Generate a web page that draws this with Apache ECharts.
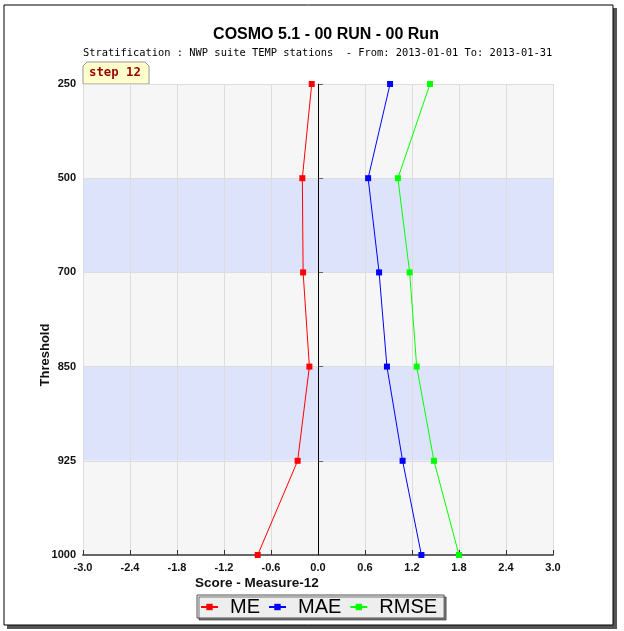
<!DOCTYPE html>
<html>
<head>
    <meta charset="UTF-8">
    <title>COSMO 5.1 - Measure-12</title>
    <script src="https://cdn.jsdelivr.net/npm/echarts@6.0.0/dist/echarts.min.js"></script>
    <style type="text/css">
      body{ margin:0; padding:0; background:#fff; }
      #chart{ width:624px; height:631px; }
    </style>
</head>
<body>
<div id="chart"></div>
<script type="text/javascript">
    // pressure levels (top to bottom)
    var levels = ['250', '500', '700', '850', '925', '1000'];
    var xTicks = { min: -3, max: 3, step: 0.6 };

    var meData   = [-0.08, -0.20, -0.19, -0.11, -0.26, -0.77];
    var maeData  = [0.92, 0.64, 0.78, 0.88, 1.08, 1.32];
    var rmseData = [1.43, 1.02, 1.17, 1.26, 1.48, 1.80];

    function pairs(vals){
        return vals.map(function(v, i){ return [v, levels[i]]; });
    }

    function lineSeries(name, color, vals){
        return {
            name: name,
            type: 'line',
            data: pairs(vals),
            symbol: 'rect',
            symbolSize: 6,
            color: color,
            lineStyle: { color: color, width: 1 },
            itemStyle: { color: color },
            animation: false
        };
    }

    var chart = echarts.init(document.getElementById('chart'));

    var series = [
        lineSeries('ME', '#ff0000', meData),
        lineSeries('MAE', '#0000ff', maeData),
        lineSeries('RMSE', '#00ff00', rmseData)
    ];
    // zero line
    series[0].markLine = {
        silent: true,
        symbol: 'none',
        label: { show: false },
        lineStyle: { color: '#000', type: 'solid', width: 1 },
        data: [{ xAxis: 0 }]
    };

    var option = {
        animation: false,
        title: [{
            text: 'COSMO 5.1 - 00 RUN - 00 Run',
            left: 321,
            textAlign: 'center',
            top: 22,
            textStyle: { fontFamily: 'Liberation Sans', fontSize: 16, fontWeight: 'bold', color: '#000' }
        }, {
            text: 'Stratification : NWP suite TEMP stations  - From: 2013-01-01 To: 2013-01-31',
            left: 78,
            top: 43,
            textStyle: { fontFamily: 'DejaVu Sans Mono', fontSize: 10.4, fontWeight: 'normal', color: '#000' }
        }],
        legend: {
            left: 197,
            top: 595,
            padding: [2, 7, 1, 3],
            itemGap: 8,
            itemWidth: 17,
            itemHeight: 8,
            backgroundColor: '#eeeeee',
            borderColor: '#555',
            borderWidth: 1,
            shadowColor: 'rgba(0,0,0,0.5)',
            shadowOffsetX: 2,
            shadowOffsetY: 2,
            shadowBlur: 0,
            textStyle: { fontFamily: 'Liberation Sans', fontSize: 20, lineHeight: 20, color: '#000', padding: [0, 0, 0, 7] },
            data: ['ME', 'MAE', 'RMSE']
        },
        grid: { left: 83, right: 71, top: 84, bottom: 76 },
        xAxis: {
            type: 'value',
            min: xTicks.min,
            max: xTicks.max,
            interval: xTicks.step,
            axisLine: { show: true, onZero: false, lineStyle: { color: '#666', width: 2 } },
            axisTick: { show: true, inside: true, length: 5, lineStyle: { color: '#333' } },
            axisLabel: {
                fontFamily: 'Liberation Sans', fontSize: 11, fontWeight: 'bold', color: '#111', margin: 7,
                formatter: function(v){ return v.toFixed(1); }
            },
            splitLine: { show: true, lineStyle: { color: '#dddddd', width: 1 } }
        },
        yAxis: {
            type: 'category',
            data: levels,
            inverse: true,
            boundaryGap: false,
            axisLine: { show: true, lineStyle: { color: '#888', width: 1 } },
            axisTick: { show: true, inside: true, length: 5, lineStyle: { color: '#666' } },
            axisLabel: { fontFamily: 'Liberation Sans', fontSize: 11, fontWeight: 'bold', color: '#111', margin: 7 },
            splitLine: { show: true, lineStyle: { color: '#dddddd', width: 1 } },
            splitArea: { show: true, areaStyle: { color: ['#f6f6f6', '#dce3fb'] } }
        },
        graphic: [
            // outer frame with shadow
            { type: 'rect', shape: { x: 613, y: 8, width: 4, height: 621 }, style: { fill: '#555' }, silent: true },
            { type: 'rect', shape: { x: 7, y: 625, width: 610, height: 4 }, style: { fill: '#555' }, silent: true },
            { type: 'rect', shape: { x: 4, y: 5, width: 609, height: 620 }, style: { fill: 'none', stroke: '#000', lineWidth: 1 }, silent: true },
            // step tab
            {
                type: 'polygon',
                shape: { points: [[83, 84], [83, 66], [87, 62], [145, 62], [149, 66], [149, 84]] },
                style: { fill: '#ffffcc', stroke: '#999', lineWidth: 1 },
                silent: true
            },
            {
                type: 'text', left: 89, top: 67,
                style: { text: 'step 12', fill: '#990000', font: 'bold 12.3px "DejaVu Sans Mono"' },
                silent: true
            },
            // axis names
            {
                type: 'text', left: 195, top: 576,
                style: { text: 'Score - Measure-12', fill: '#111', font: 'bold 13.5px "Liberation Sans"' },
                silent: true
            },
            {
                type: 'text', x: 45, y: 355, rotation: Math.PI / 2,
                style: { text: 'Threshold', fill: '#111', font: 'bold 13px "Liberation Sans"', align: 'center', verticalAlign: 'middle' },
                silent: true
            }
        ],
        series: series
    };

    chart.setOption(option);
</script>
</body>
</html>
